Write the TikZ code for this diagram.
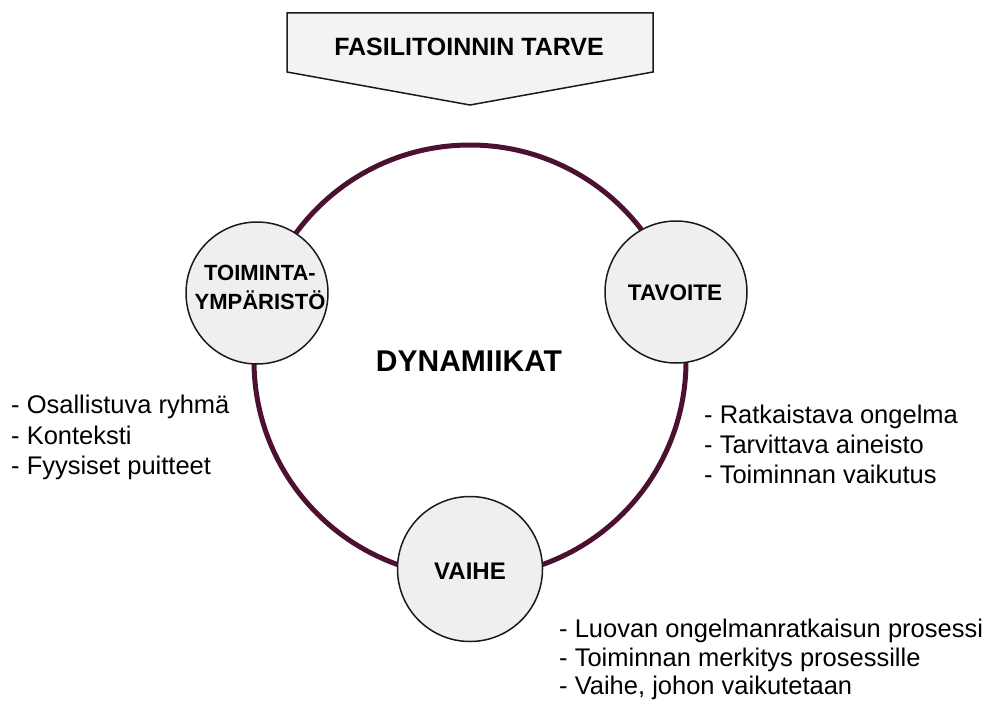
\documentclass[tikz,border=0pt]{standalone}
\usepackage{fontspec}
\setmainfont{Liberation Sans}
\definecolor{ringcol}{HTML}{4C1130}
\definecolor{bubblefill}{HTML}{EFEFEF}
\definecolor{bannerfill}{HTML}{F3F3F3}
\definecolor{outline}{HTML}{1A1A1A}
\begin{document}
\begin{tikzpicture}[x=1pt,y=-1pt,
  bubble/.style={circle, draw=outline, line width=1.5pt, fill=bubblefill,
                 inner sep=0pt, minimum size=#1},
  bubble/.default=142pt,
  headtxt/.style={font=\bfseries\fontsize{#1}{#1}\selectfont, inner sep=0pt, anchor=base},
  headtxt/.default=22,
  listtxt/.style={font=\fontsize{25.5}{30}\selectfont, inner sep=0pt, anchor=base west}]
\useasboundingbox (0,0) rectangle (987,706);

% banner arrow pointing down at the cycle
\draw[draw=outline, line width=1.5pt, fill=bannerfill]
  (287,13) -- (653,13) -- (653,72) -- (470,105) -- (287,72) -- cycle;
\node[headtxt=25] (need) at (469,56) {FASILITOINNIN TARVE};

% the cycle ring
\draw[ringcol, line width=5pt] (470,361) circle[radius=216];

% bubbles on the ring
\node[bubble] (env)  at (257,293) {};
\node[bubble] (goal) at (676,292) {};
\node[bubble=145pt] (phase) at (470,569) {};

\node[headtxt=22] (envA) at (260,280) {TOIMINTA-};
\node[headtxt=22] (envB) at (260,309) {YMPÄRISTÖ};
\node[headtxt=22.5] (goalT) at (675,300) {TAVOITE};
\node[headtxt=24] (phaseT) at (470,579) {VAIHE};

\node[headtxt=30] (dyn) at (469,371) {DYNAMIIKAT};

% lists of factors
\node[listtxt] (l1) at (11,413) {- Osallistuva ryhmä};
\node[listtxt] (l2) at (11,444) {- Konteksti};
\node[listtxt] (l3) at (11,474) {- Fyysiset puitteet};

\node[listtxt] (r1) at (704,423) {- Ratkaistava ongelma};
\node[listtxt] (r2) at (704,453) {- Tarvittava aineisto};
\node[listtxt] (r3) at (704,483) {- Toiminnan vaikutus};

\node[listtxt] (b1) at (559,637) {- Luovan ongelmanratkaisun prosessi};
\node[listtxt] (b2) at (559,666) {- Toiminnan merkitys prosessille};
\node[listtxt] (b3) at (559,694) {- Vaihe, johon vaikutetaan};
\end{tikzpicture}
\end{document}
